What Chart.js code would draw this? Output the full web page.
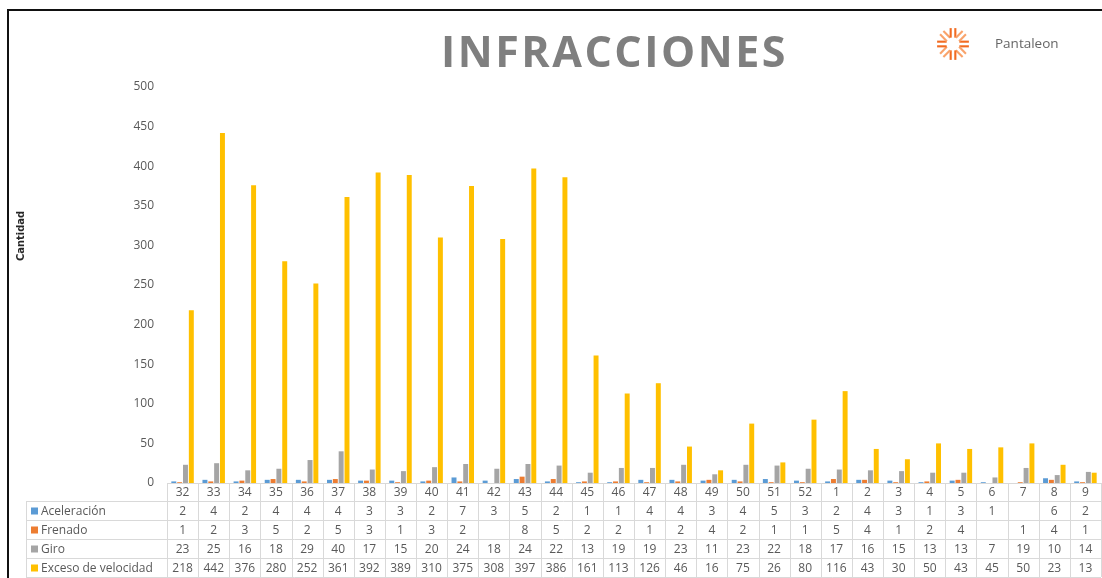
<!DOCTYPE html>
<html>
<head>
<meta charset="utf-8">
<script src="https://cdn.jsdelivr.net/npm/chart.js@4.4.0/dist/chart.umd.min.js"></script>
<style>
html,body{margin:0;padding:0;background:#fff;}
#wrap{position:relative;width:1102px;height:578px;overflow:hidden;font-family:"Open Sans",sans-serif;}
#frame{position:absolute;left:7px;top:9px;width:1100px;height:580px;border-left:2px solid #111;border-top:2px solid #111;}
#ttl{position:absolute;left:0;width:1229px;top:21px;text-align:center;font-weight:bold;font-size:43px;color:#7f7f7f;letter-spacing:2.5px;}
#ytl{position:absolute;left:20px;top:236px;transform:translate(-50%,-50%) rotate(-90deg);font-family:"Liberation Sans Narrow","DejaVu Sans Condensed",sans-serif;font-weight:bold;font-size:11px;color:#262626;white-space:nowrap;}
#logo{position:absolute;left:935px;top:26px;}
#brand{position:absolute;left:995px;top:34px;font-size:13.5px;color:#666;}
canvas{position:absolute;left:0;top:0;}
</style>
</head>
<body>
<div id="wrap">
  <canvas id="c" width="1102" height="578"></canvas>
  <div id="frame"></div>
  <div id="ttl">INFRACCIONES</div>
  <div id="ytl">Cantidad</div>
  <svg id="logo" width="36" height="36" viewBox="0 0 34 34"></svg>
  <div id="brand">Pantaleon</div>
</div>
<script>
var semanas=['32','33','34','35','36','37','38','39','40','41','42','43','44','45','46','47','48','49','50','51','52','1','2','3','4','5','6','7','8','9'];
var aceleracion=[2,4,2,4,4,4,3,3,2,7,3,5,2,1,1,4,4,3,4,5,3,2,4,3,1,3,1,null,6,2];
var frenado=[1,2,3,5,2,5,3,1,3,2,null,8,5,2,2,1,2,4,2,1,1,5,4,1,2,4,null,1,4,1];
var giro=[23,25,16,18,29,40,17,15,20,24,18,24,22,13,19,19,23,11,23,22,18,17,16,15,13,13,7,19,10,14];
var exceso=[218,442,376,280,252,361,392,389,310,375,308,397,386,161,113,126,46,16,75,26,80,116,43,30,50,43,45,50,23,13];
var series=[
  {label:'Aceleración',data:aceleracion,color:'#5B9BD5'},
  {label:'Frenado',data:frenado,color:'#ED7D31'},
  {label:'Giro',data:giro,color:'#A5A5A5'},
  {label:'Exceso de velocidad',data:exceso,color:'#FFC000'}
];

// logo: rayos naranjas
(function(){
  var svg=document.getElementById('logo'), s='', cx=17, cy=17;
  for(var i=0;i<8;i++){
    var a=i*Math.PI/4, ca=Math.cos(a), sa=Math.sin(a);
    [-2.2,2.2].forEach(function(o){
      var x1=cx+ca*6-sa*o, y1=cy+sa*6+ca*o, x2=cx+ca*15-sa*o, y2=cy+sa*15+ca*o;
      s+='<line x1="'+x1.toFixed(1)+'" y1="'+y1.toFixed(1)+'" x2="'+x2.toFixed(1)+'" y2="'+y2.toFixed(1)+'" stroke="'+(i%2?'#f9a36b':'#f26b21')+'" stroke-width="2"/>';
    });
  }
  svg.innerHTML=s;
})();

var tabla={
  id:'tabla',
  afterDraw:function(ch){
    var ctx=ch.ctx, a=ch.chartArea, x=ch.scales.x;
    var n=semanas.length, cw=(a.right-a.left)/n;
    var rows=[a.bottom, a.bottom+18, a.bottom+37, a.bottom+56, a.bottom+75, a.bottom+94];
    var lx=26;
    ctx.save();
    ctx.strokeStyle='#d9d9d9'; ctx.lineWidth=1;
    ctx.beginPath();
    ctx.moveTo(a.left,rows[0]+0.5); ctx.lineTo(a.right,rows[0]+0.5);
    for(var r=1;r<rows.length;r++){ ctx.moveTo(lx,rows[r]+0.5); ctx.lineTo(a.right,rows[r]+0.5); }
    ctx.moveTo(lx+0.5,rows[1]); ctx.lineTo(lx+0.5,rows[5]);
    for(var i=0;i<=n;i++){ var xx=Math.round(a.left+i*cw)+0.5; ctx.moveTo(xx,rows[0]); ctx.lineTo(xx,rows[5]); }
    ctx.stroke();
    ctx.font='12px "Open Sans", sans-serif'; ctx.fillStyle='#595959'; ctx.textBaseline='middle'; ctx.textAlign='center';
    semanas.forEach(function(s,i){ ctx.fillText(s, x.getPixelForValue(i), (rows[0]+rows[1])/2+1); });
    series.forEach(function(sr,k){
      var cy=(rows[k+1]+rows[k+2])/2+1;
      ctx.textAlign='center'; ctx.fillStyle='#595959';
      sr.data.forEach(function(v,i){ if(v!=null) ctx.fillText(String(v), x.getPixelForValue(i), cy); });
      ctx.fillStyle=sr.color; ctx.fillRect(31,cy-4,7,7);
      ctx.fillStyle='#595959'; ctx.textAlign='left'; ctx.fillText(sr.label, 41, cy);
    });
    ctx.restore();
  }
};

new Chart(document.getElementById('c'),{
  type:'bar',
  data:{labels:semanas,datasets:series.map(function(s){return {label:s.label,data:s.data,backgroundColor:s.color,borderWidth:0,categoryPercentage:0.75,barPercentage:0.85};})},
  options:{
    responsive:false, animation:false, devicePixelRatio:1,
    layout:{padding:{left:10,top:87,right:1,bottom:95}},
    plugins:{legend:{display:false},tooltip:{enabled:false}},
    scales:{
      x:{display:false},
      y:{min:0,max:500,afterFit:function(s){s.width=157;},
        grid:{display:false,drawTicks:false},border:{display:false},
        ticks:{stepSize:50,padding:13,color:'#595959',font:{family:'"Open Sans", sans-serif',size:12}}}
    }
  },
  plugins:[tabla]
});
</script>
</body>
</html>
